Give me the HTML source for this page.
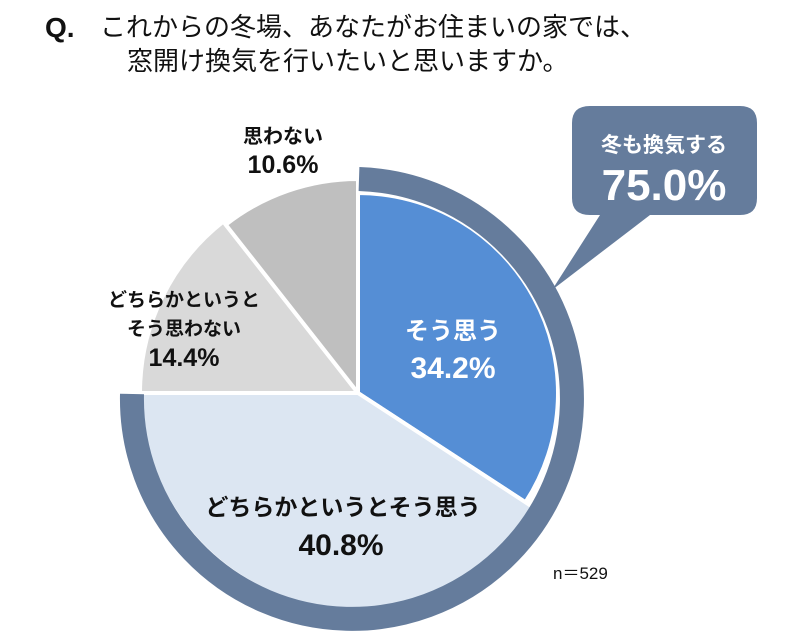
<!DOCTYPE html>
<html><head><meta charset="utf-8"><style>
body{margin:0;background:#fff;width:796px;height:634px;overflow:hidden;font-family:"Liberation Sans","Noto Sans CJK JP",sans-serif;}
svg{display:block}
</style></head><body>
<svg width="796" height="634">
<text x="45" y="37" font-size="28" font-weight="bold" fill="#111">Q.</text>
<text x="100" y="36" font-size="26" fill="#111">これからの冬場、あなたがお住まいの家では、</text>
<text x="127" y="70" font-size="26" fill="#111">窓開け換気を行いたいと思いますか。</text>
<g id="slices"></g>
<g id="ring"></g>
<g id="labels"></g>
<path d="M590,106 H740 Q757,106 757,123 V198 Q757,215 740,215 H650 L552,290 L600,215 H590 Q572,215 572,198 V123 Q572,106 590,106 Z" fill="#657c9c"/>
<text x="664" y="152" font-size="21" font-weight="bold" fill="#fff" text-anchor="middle">冬も換気する</text>
<text x="664" y="200" font-size="44" font-weight="bold" fill="#fff" text-anchor="middle">75.0%</text>
<text x="553" y="579" font-size="17" fill="#111">n＝529</text>
</svg>
<script>
const categories=["そう思う","どちらかというとそう思う","どちらかというとそう思わない","思わない"];
const values=[34.2,40.8,14.4,10.6];
const valueLabels=["34.2%","40.8%","14.4%","10.6%"];
const ringValue=75.0;
const colors=["#558ed5","#dce6f2","#d9d9d9","#bfbfbf"];
const radii=[200,218,218,214];
const cx=358,cy=393;
const NS="http://www.w3.org/2000/svg";
const total=values.reduce((a,b)=>a+b,0);
function pt(r,a,x0,y0){return [(x0??cx)+r*Math.sin(a),(y0??cy)-r*Math.cos(a)];}
const g=document.getElementById('slices');
let a0=0;const mids=[];
values.forEach((v,i)=>{
  const a1=a0+v/total*2*Math.PI;const r=radii[i];
  const p0=pt(r,a0),p1=pt(r,a1);
  const p=document.createElementNS(NS,'path');
  p.setAttribute('d',`M${cx},${cy} L${p0[0]},${p0[1]} A${r},${r} 0 ${a1-a0>Math.PI?1:0} 1 ${p1[0]},${p1[1]} Z`);
  p.setAttribute('fill',colors[i]);p.setAttribute('stroke','#fff');p.setAttribute('stroke-width','4');p.setAttribute('stroke-linejoin','round');
  
  
  g.appendChild(p);mids.push((a0+a1)/2);a0=a1;
});
const rcx=352,rcy=399,rr=220;
const ra=ringValue/100*2*Math.PI;
const q0=pt(rr,0,rcx,rcy),q1=pt(rr,ra,rcx,rcy);
const ring=document.createElementNS(NS,'path');
ring.setAttribute('d',`M${cx+1},${q0[1]} A${rr},${rr} 0 ${ra>Math.PI?1:0} 1 ${q1[0]},${cy+1}`);
ring.setAttribute('fill','none');ring.setAttribute('stroke','#657c9c');ring.setAttribute('stroke-width','24');


document.getElementById('ring').appendChild(ring);
const L=document.getElementById('labels');
function txt(x,y,s,size,fill,name){const t=document.createElementNS(NS,'text');t.setAttribute('x',x);t.setAttribute('y',y);t.setAttribute('font-size',size);t.setAttribute('font-weight','bold');t.setAttribute('fill',fill);t.setAttribute('text-anchor','middle');t.textContent=s;


L.appendChild(t);}
txt(453,339,categories[0],24,'#fff','label-sou-omou');
txt(453,378,valueLabels[0],30,'#fff','value-sou-omou');
txt(343,515,categories[1],23,'#111','label-dochira-omou');
txt(341,555,valueLabels[1],30,'#111','value-dochira-omou');
txt(184,306,"どちらかというと",19,'#111','label-dochira-omowanai-1');
txt(184,335,"そう思わない",19,'#111','label-dochira-omowanai-2');
txt(184,366,valueLabels[2],25,'#111','value-dochira-omowanai');
txt(283,143,categories[3],20,'#111','label-omowanai');
txt(283,173,valueLabels[3],25,'#111','value-omowanai');
</script>
</body></html>
